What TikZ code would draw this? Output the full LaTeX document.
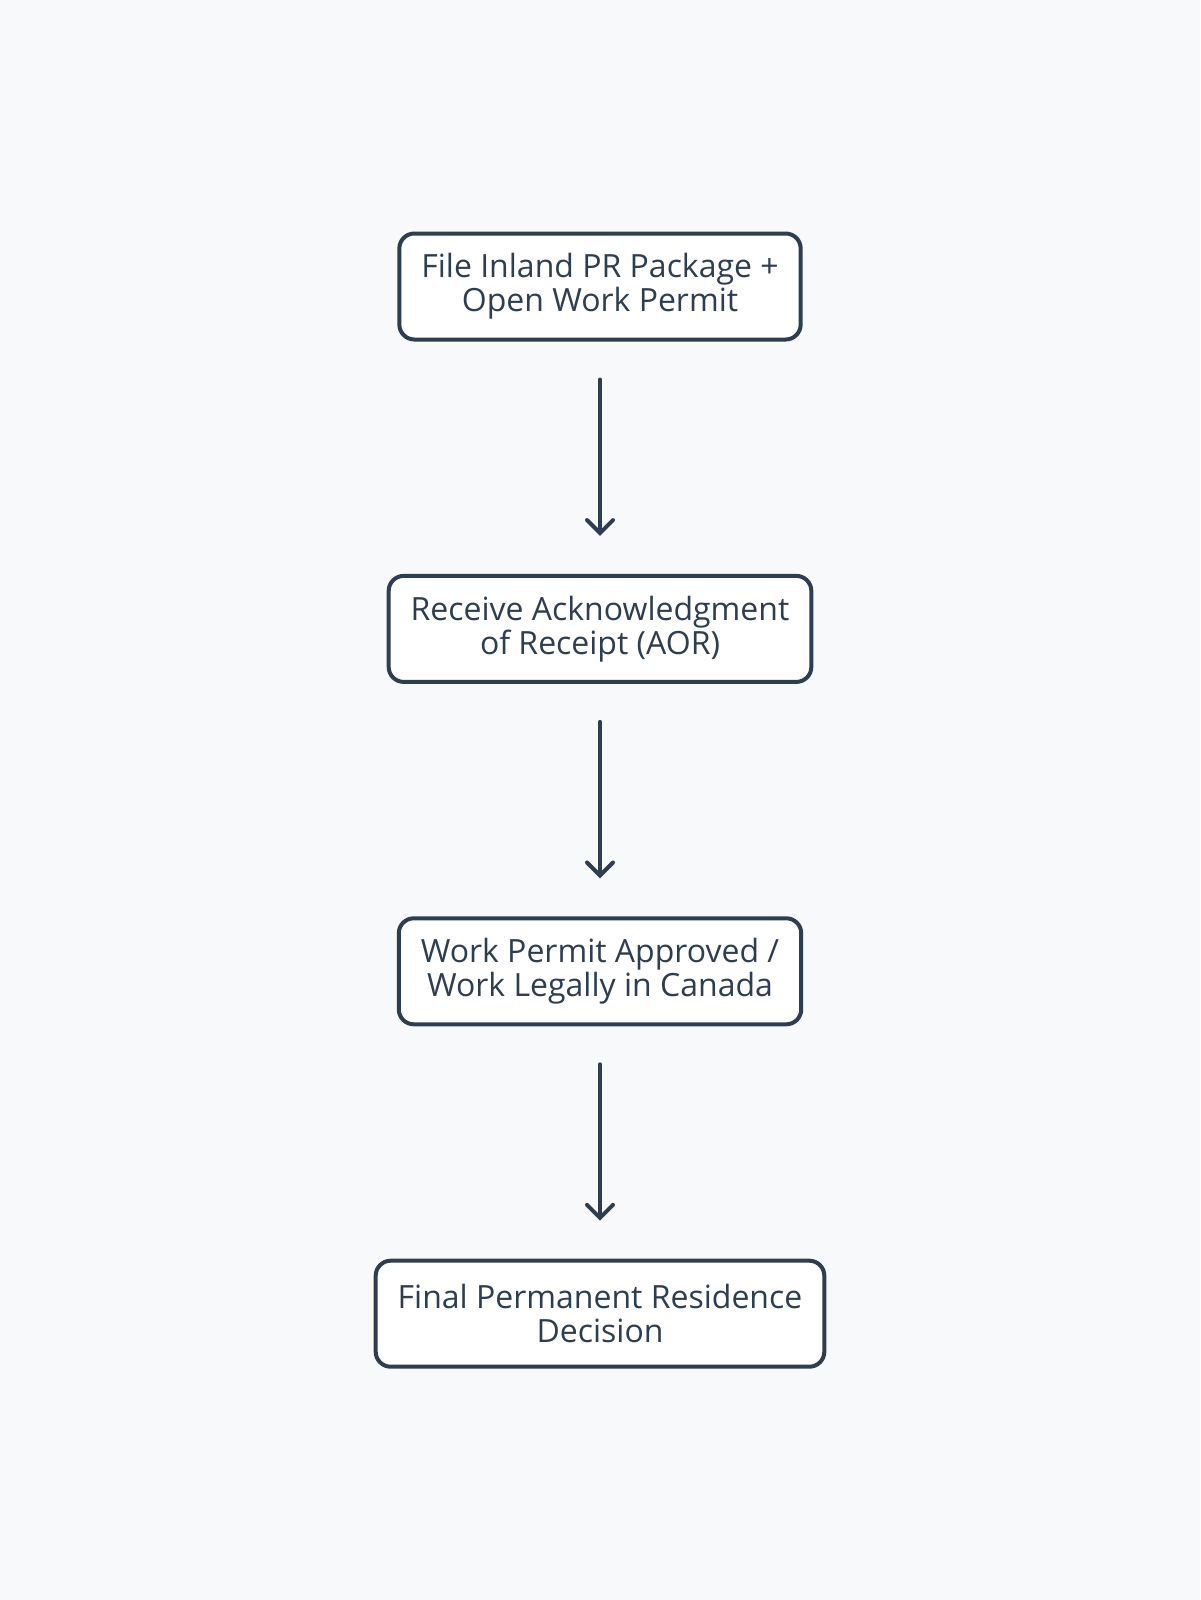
\documentclass[tikz,border=0pt]{standalone}
\usepackage{fontspec}
\setmainfont{Open Sans}
\usetikzlibrary{positioning,arrows.meta}
\definecolor{slate}{HTML}{2D3E50}
\definecolor{paper}{HTML}{F8F9FA}

\begin{document}
\begin{tikzpicture}[x=0.5pt,y=-0.5pt,
    stepbox/.style={draw=slate,line width=2pt,rounded corners=7.5pt,fill=white,
        align=center,inner xsep=11pt,minimum height=53pt,
        font=\fontsize{16}{17}\selectfont,text=slate},
    flow/.style={draw=slate,line width=2pt,line cap=round,
        -{Straight Barb[length=6.5pt,width=13pt,line cap=round]},
        shorten <=19pt,shorten >=19pt},
    node distance=116.2pt]
                \fill[paper] (0,0) rectangle (1200,1600);
                \useasboundingbox (0,0) rectangle (1200,1600);
                \node[stepbox] (file) at (600,286.5) {File Inland PR Package +\\Open Work Permit};
                \node[stepbox,below=of file] (aor) {Receive Acknowledgment\\of Receipt (AOR)};
                \node[stepbox,below=of aor] (work) {Work Permit Approved /\\Work Legally in Canada};
                \node[stepbox,below=of work] (final) {Final Permanent Residence\\Decision};
                \foreach \a/\b in {file/aor,aor/work,work/final}
                    \draw[flow] (\a) -- (\b);
            \end{tikzpicture}
\end{document}
